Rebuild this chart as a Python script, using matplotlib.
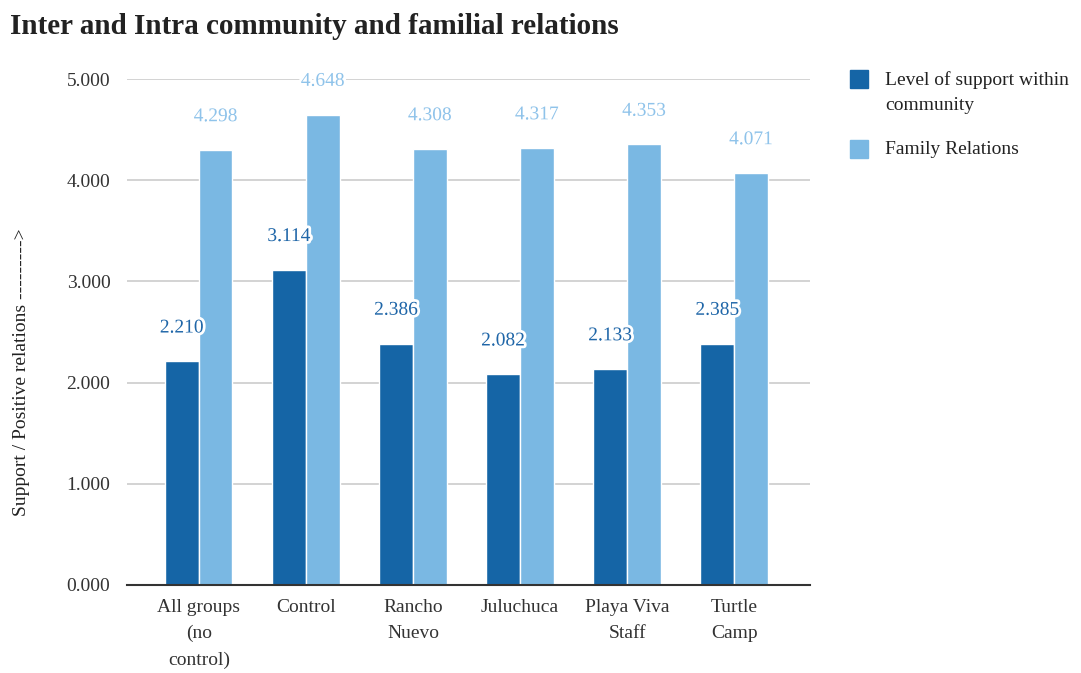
import matplotlib.pyplot as plt
import matplotlib.patheffects as pe
from matplotlib.patches import Rectangle
import numpy as np

plt.rcParams['font.family'] = ['Liberation Serif', 'DejaVu Serif']

categories = ["All groups\n(no\ncontrol)", "Control", "Rancho\nNuevo", "Juluchuca",
              "Playa Viva\nStaff", "Turtle\nCamp"]
support = [2.210, 3.114, 2.386, 2.082, 2.133, 2.385]
family = [4.298, 4.648, 4.308, 4.317, 4.353, 4.071]
series = ["Level of support within\ncommunity", "Family Relations"]

dark = "#1565a6"
light = "#7ab8e3"

W, H = 1081, 673
fig = plt.figure(figsize=(10.81, 6.73), dpi=100)
ax = fig.add_axes([0.1175, 0.1308, 0.632, 0.7518])

x = np.arange(len(categories))
w = 0.315
ax.bar(x - w / 2, support, w, color=dark, edgecolor="white", linewidth=1, zorder=3)
ax.bar(x + w / 2, family, w, color=light, edgecolor="white", linewidth=1, zorder=3)

stroke = [pe.withStroke(linewidth=4, foreground="white")]
for xi, v in zip(x, support):
    ax.annotate(f"{v:.3f}", (xi - w / 2, v), xytext=(0, 24), textcoords="offset points",
                ha="center", va="center", fontsize=14, color="#1f66a8",
                path_effects=stroke, zorder=5)
for xi, v in zip(x, family):
    ax.annotate(f"{v:.3f}", (xi + w / 2, v), xytext=(0, 24), textcoords="offset points",
                ha="center", va="center", fontsize=14, color="#8fc3ea",
                path_effects=stroke, zorder=5)

ax.set_xlim(-0.67, 5.71)
ax.set_ylim(0, 5)
ax.set_yticks([0, 1, 2, 3, 4, 5])
ax.set_yticklabels([f"{t:.3f}" for t in range(6)])
ax.set_xticks(x)
ax.set_xticklabels(categories, linespacing=1.7)
ax.tick_params(axis="both", length=0, labelsize=14, labelcolor="#333333")
ax.tick_params(axis="y", pad=12)
ax.tick_params(axis="x", pad=10)
ax.grid(axis="y", color="#cccccc", linewidth=1.2, zorder=0)
for s in ["top", "right", "left"]:
    ax.spines[s].set_visible(False)
ax.spines["bottom"].set_color("#333333")
ax.spines["bottom"].set_linewidth(1.5)
ax.spines["bottom"].set_zorder(4)

fig.text(0.009, 1 - 26 / H, "Inter and Intra community and familial relations",
         fontsize=21, fontweight="bold", color="#222222", va="center")
fig.text(0.02, 1 - 372 / H, "Support / Positive relations --------->", rotation=90,
         fontsize=14, color="#222222", ha="center", va="center")

# legend
fig.add_artist(Rectangle((850 / W, 1 - 88 / H), 18 / W, 18 / H, color=dark,
                         transform=fig.transFigure))
fig.text(885 / W, 1 - 71 / H, series[0], fontsize=14, color="#222222",
         va="top", linespacing=1.6)
fig.add_artist(Rectangle((850 / W, 1 - 158 / H), 18 / W, 18 / H, color=light,
                         transform=fig.transFigure))
fig.text(885 / W, 1 - 150 / H, series[1], fontsize=14, color="#222222", va="center")

fig.savefig("out.png", dpi=100)
